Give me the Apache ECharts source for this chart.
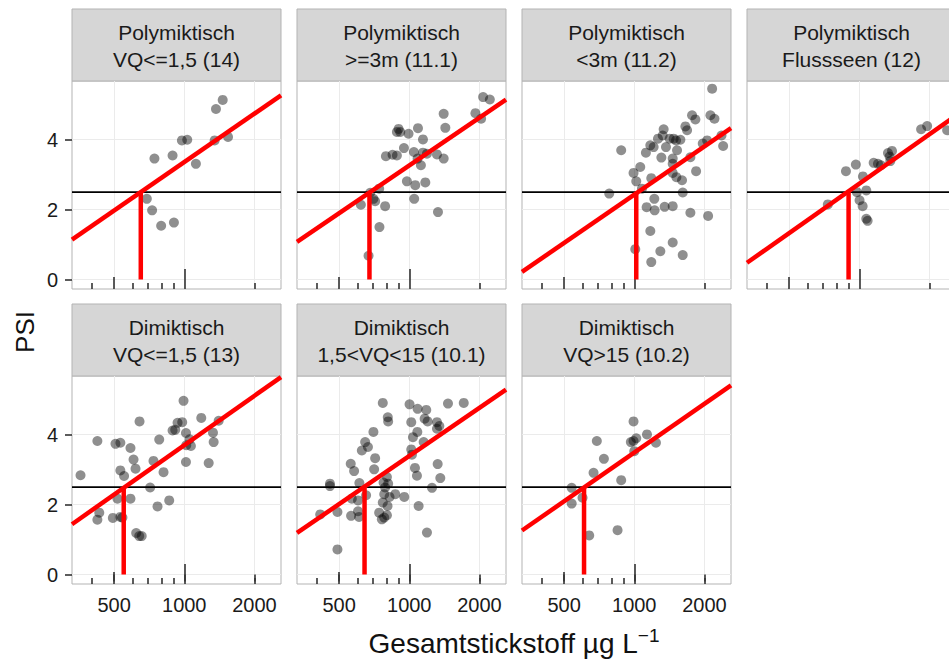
<!DOCTYPE html>
<html><head><meta charset="utf-8">
<script src="https://cdn.jsdelivr.net/npm/echarts@6/dist/echarts.min.js"></script>
<style>html,body{margin:0;padding:0;background:#fff}#c{width:949px;height:666px}</style>
</head><body><div id="c"></div>
<script>
// ---------- data ----------
const stripTitles = [
  'Polymiktisch\nVQ<=1,5 (14)',
  'Polymiktisch\n>=3m (11.1)',
  'Polymiktisch\n<3m (11.2)',
  'Polymiktisch\nFlussseen (12)',
  'Dimiktisch\nVQ<=1,5 (13)',
  'Dimiktisch\n1,5<VQ<15 (10.1)',
  'Dimiktisch\nVQ>15 (10.2)'
];
const xTickValues = [500, 1000, 2000];
const yTickValues = [0, 2, 4];
const logTicksShort = [400, 600, 700, 800, 900, 2000];
const logTicksMid = [500];
const logTicksLong = [1000];
const xRange = [330, 2600];
const yRange = [-0.27, 5.68];
const psiThreshold = 2.5;
const xTitle = 'Gesamtstickstoff µg L';
const xTitleSup = '−1';
const yTitle = 'PSI';

const p1 = [[1462,5.14],[1368,4.88],[977,3.98],[1030,4.00],[1350,3.98],[1541,4.08],[745,3.46],[891,3.55],[1122,3.31],[691,2.31],[728,1.98],[796,1.54],[903,1.63]];
const p2 = [[2074,5.22],[2216,5.15],[1405,4.74],[1922,4.76],[2033,4.60],[900,4.31],[885,4.22],[915,4.22],[993,4.17],[1090,4.33],[1428,4.34],[1145,4.01],[949,3.76],[794,3.53],[848,3.57],[885,3.55],[1047,3.65],[1145,3.63],[1191,3.60],[1315,3.58],[1405,3.46],[1086,3.46],[1122,3.27],[977,2.81],[1061,2.70],[1172,2.78],[1050,2.31],[1328,1.93],[743,2.60],[680,2.48],[702,2.31],[714,2.24],[620,2.14],[788,2.10],[745,1.50],[669,0.68]];
const p3 = [[2158,5.46],[1770,4.70],[1829,4.58],[2122,4.70],[2208,4.60],[1657,4.38],[1685,4.27],[1337,4.30],[1324,4.12],[1264,4.03],[1419,4.03],[1476,4.03],[1577,4.00],[1511,3.98],[2367,4.12],[2054,3.98],[1967,3.89],[2406,3.82],[1211,3.79],[1172,3.84],[879,3.70],[1122,3.63],[1368,3.79],[1307,3.49],[1462,3.46],[1462,3.31],[1741,3.50],[1526,3.70],[1061,3.22],[993,3.05],[1183,2.90],[1020,2.81],[1462,3.05],[1516,2.93],[1603,2.84],[1842,3.10],[1079,2.60],[781,2.46],[1614,2.49],[1219,2.31],[1130,2.07],[1223,1.98],[1350,2.08],[1462,2.10],[1741,1.91],[2074,1.82],[1172,1.39],[1010,0.87],[1294,0.81],[1462,1.06],[1614,0.70],[1183,0.50]];
const p4 = [[1842,4.30],[1955,4.39],[2382,4.27],[1328,3.62],[1382,3.68],[1350,3.52],[1359,3.39],[1153,3.34],[1203,3.31],[1239,3.27],[877,3.10],[967,3.29],[1037,2.95],[977,2.50],[1072,2.55],[1003,2.27],[1034,2.10],[1072,1.74],[1086,1.68],[733,2.15]];
const p5 = [[993,4.97],[643,4.38],[1183,4.48],[1405,4.40],[936,4.34],[980,4.36],[891,4.12],[915,4.14],[1017,4.05],[1328,4.06],[1337,3.79],[424,3.82],[507,3.74],[532,3.77],[781,3.86],[588,3.62],[1054,3.87],[1020,3.70],[1068,3.68],[606,3.29],[738,3.25],[618,3.03],[815,2.93],[1017,3.22],[1273,3.19],[532,2.98],[552,2.82],[359,2.84],[714,2.49],[517,2.17],[588,2.17],[768,1.95],[862,2.12],[432,1.77],[424,1.57],[494,1.62],[532,1.65],[543,1.63],[622,1.19],[641,1.10],[657,1.10]];
const p6 = [[770,4.91],[1003,4.87],[1086,4.74],[1183,4.71],[1466,4.89],[1713,4.91],[809,4.50],[812,4.38],[1020,4.36],[1164,4.46],[1199,4.38],[1315,4.36],[1346,4.25],[1315,4.17],[702,4.08],[1083,4.08],[1037,3.93],[1153,3.79],[647,3.79],[665,3.65],[626,3.55],[1020,3.58],[1027,3.43],[714,3.33],[561,3.17],[580,2.96],[707,3.01],[1058,3.05],[1079,2.83],[1324,3.16],[1359,2.76],[802,2.79],[611,2.62],[776,2.63],[457,2.60],[457,2.53],[812,2.60],[788,2.49],[1252,2.48],[653,2.27],[567,2.17],[781,2.30],[823,2.22],[871,2.30],[952,2.22],[603,2.12],[770,2.06],[807,1.96],[1097,1.96],[415,1.72],[492,1.79],[563,1.68],[609,1.65],[603,1.81],[743,1.77],[781,1.63],[763,1.58],[802,1.70],[1191,1.20],[492,0.72]];
const p7 = [[993,4.38],[1134,4.01],[1020,3.90],[967,3.79],[993,3.82],[1000,3.53],[1239,3.77],[691,3.82],[741,3.31],[669,2.91],[879,2.70],[539,2.48],[539,2.03],[600,2.20],[641,1.12],[848,1.27]];
const panelPoints = [p1, p2, p3, p4, p5, p6, p7];
// fitted line: PSI at left and right end of the x range
const fitEnds = [[1.14,5.27],[1.08,5.15],[0.22,4.33],[0.48,4.69],[1.44,5.65],[1.19,5.29],[1.26,5.41]];
// N concentration where the fit crosses PSI 2.5
const fitCross = [651, 675, 1020, 900, 550, 643, 609];

// ---------- layout ----------
const FONT = '"Liberation Sans", Arial, sans-serif';
const colLeft = [72, 297, 522, 747];
const rowTop = [81, 376];
const PW = 209, PH = 208, STRIP = 72;
const tickStyle = {color: '#333', width: 1.6};
const fmt = v => String(Math.round(v));

const grids = [], xAxes = [], yAxes = [], series = [], graphics = [];
panelPoints.forEach((pts, i) => {
  const row = i < 4 ? 0 : 1;
  const col = i < 4 ? i : i - 4;
  const left = colLeft[col], top = rowTop[row];
  grids.push({left: left, top: top, width: PW, height: PH, show: true,
    backgroundColor: '#fff', borderColor: '#b3b3b3', borderWidth: 1, outerBoundsMode: 'none', containLabel: false});
  const base = {type: 'log', logBase: 10, gridIndex: i, min: xRange[0], max: xRange[1], position: 'bottom',
    axisLine: {show: false}};
  xAxes.push(Object.assign({}, base, {
    axisTick: {show: row === 1, inside: false, length: 7, lineStyle: tickStyle, customValues: xTickValues},
    axisLabel: {show: row === 1, customValues: xTickValues, formatter: fmt, fontSize: 20, color: '#1a1a1a', margin: 11, fontFamily: FONT},
    splitLine: {show: true, lineStyle: {color: '#ebebeb', width: 1}}
  }));
  [[logTicksShort, 6], [logTicksMid, 12], [logTicksLong, 20]].forEach(([vals, len]) => {
    xAxes.push(Object.assign({}, base, {
      axisTick: {show: true, inside: true, length: len, lineStyle: tickStyle, customValues: vals},
      axisLabel: {show: false},
      splitLine: {show: false}
    }));
  });
  yAxes.push({type: 'value', gridIndex: i, min: yRange[0], max: yRange[1],
    axisLine: {show: false},
    axisTick: {show: col === 0, length: 7, lineStyle: tickStyle, customValues: yTickValues},
    axisLabel: {show: col === 0, customValues: yTickValues, fontSize: 20, color: '#1a1a1a', margin: 14, fontFamily: FONT},
    splitLine: {show: true, lineStyle: {color: '#ebebeb', width: 1}}
  });
  const xi = i * 4;
  series.push({type: 'scatter', xAxisIndex: xi, yAxisIndex: i, data: pts, symbolSize: 10,
    itemStyle: {color: 'rgba(0,0,0,0.55)'}, z: 2, silent: true});
  series.push({type: 'line', xAxisIndex: xi, yAxisIndex: i, data: [[xRange[0], psiThreshold], [xRange[1], psiThreshold]],
    symbol: 'none', lineStyle: {color: '#000', width: 1.7}, z: 3, silent: true});
  series.push({type: 'line', xAxisIndex: xi, yAxisIndex: i, data: [[xRange[0], fitEnds[i][0]], [xRange[1], fitEnds[i][1]]],
    symbol: 'none', lineStyle: {color: '#ff0000', width: 4.5}, z: 4, silent: true});
  series.push({type: 'line', xAxisIndex: xi, yAxisIndex: i, data: [[fitCross[i], 0], [fitCross[i], psiThreshold]],
    symbol: 'none', lineStyle: {color: '#ff0000', width: 4.5, cap: 'butt'}, z: 4, silent: true});
  graphics.push({type: 'rect', shape: {x: left, y: top - STRIP, width: PW, height: STRIP},
    style: {fill: '#d6d6d6', stroke: '#b3b3b3', lineWidth: 1}, silent: true});
  graphics.push({type: 'text', x: left + PW / 2, y: top - STRIP / 2 + 1,
    style: {text: stripTitles[i], fontSize: 21, lineHeight: 27, fontFamily: FONT, fill: '#1a1a1a',
      align: 'center', verticalAlign: 'middle', textAlign: 'center', textVerticalAlign: 'middle'}, silent: true});
});
graphics.push({type: 'text', x: 514, y: 643,
  style: {text: '{m|' + xTitle + '}{s|' + xTitleSup + '}', fill: '#111',
    align: 'center', verticalAlign: 'middle', textAlign: 'center', textVerticalAlign: 'middle',
    rich: {m: {fontSize: 28, fontFamily: FONT, fill: '#111', color: '#111', lineHeight: 34},
           s: {fontSize: 19, fontFamily: FONT, fill: '#111', color: '#111', verticalAlign: 'top', lineHeight: 34}}}, silent: true});
graphics.push({type: 'text', x: 25, y: 332, rotation: Math.PI / 2,
  style: {text: yTitle, fontSize: 26, fontFamily: FONT, fill: '#111',
    align: 'center', verticalAlign: 'middle', textAlign: 'center', textVerticalAlign: 'middle'}, silent: true});

const chart = echarts.init(document.getElementById('c'), null, {renderer: 'svg'});
chart.setOption({
  animation: false,
  backgroundColor: '#fff',
  textStyle: {fontFamily: FONT},
  grid: grids, xAxis: xAxes, yAxis: yAxes, series: series, graphic: graphics
});
</script></body></html>
